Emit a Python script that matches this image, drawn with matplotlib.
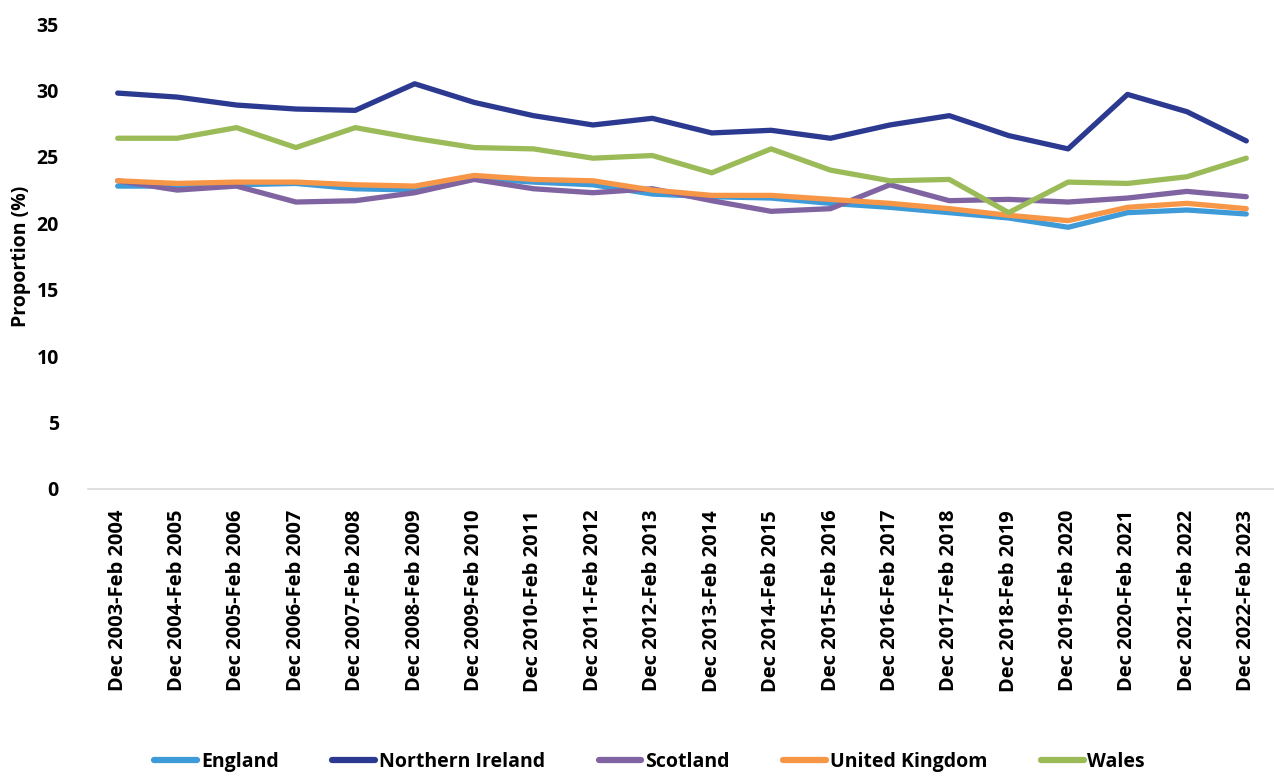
import matplotlib
matplotlib.use("Agg")
import matplotlib.pyplot as plt

categories = [f"Dec {y}-Feb {y+1}" for y in range(2003, 2023)]

england = [22.8, 22.8, 22.9, 23.0, 22.6, 22.5, 23.4, 23.1, 22.9, 22.2,
           22.0, 21.9, 21.5, 21.2, 20.8, 20.4, 19.7, 20.8, 21.0, 20.7]
northern_ireland = [29.8, 29.5, 28.9, 28.6, 28.5, 30.5, 29.1, 28.1, 27.4, 27.9,
                    26.8, 27.0, 26.4, 27.4, 28.1, 26.6, 25.6, 29.7, 28.4, 26.2]
scotland = [23.2, 22.5, 22.8, 21.6, 21.7, 22.3, 23.3, 22.6, 22.3, 22.6,
            21.7, 20.9, 21.1, 22.9, 21.7, 21.8, 21.6, 21.9, 22.4, 22.0]
united_kingdom = [23.2, 23.0, 23.1, 23.1, 22.9, 22.8, 23.6, 23.3, 23.2, 22.5,
                  22.1, 22.1, 21.8, 21.5, 21.1, 20.6, 20.2, 21.2, 21.5, 21.1]
wales = [26.4, 26.4, 27.2, 25.7, 27.2, 26.4, 25.7, 25.6, 24.9, 25.1,
         23.8, 25.6, 24.0, 23.2, 23.3, 20.8, 23.1, 23.0, 23.5, 24.9]

series = [
    ("England", england, "#3f9ad8"),
    ("Northern Ireland", northern_ireland, "#2b3990"),
    ("Scotland", scotland, "#8064a2"),
    ("United Kingdom", united_kingdom, "#f79646"),
    ("Wales", wales, "#9bbb59"),
]

plt.rcParams['font.family'] = ['Open Sans', 'DejaVu Sans']

fig = plt.figure(figsize=(12.74, 7.77), dpi=100)
ax = fig.add_axes([88/1274, 1 - 489/777, (1276-88)/1274, (489-24)/777])

x = list(range(len(categories)))
for name, vals, col in series:
    ax.plot(x, vals, color=col, lw=3.8, label=name, solid_capstyle='round', solid_joinstyle='round')

ax.set_xlim(-0.5, len(categories) - 0.5)
ax.set_ylim(0, 35)
ax.set_yticks(range(0, 36, 5))
ax.set_xticks(x)
ax.set_xticklabels(categories, rotation=90, fontsize=14.5, fontweight='bold')
for lab in ax.get_yticklabels():
    lab.set_fontsize(14)
    lab.set_fontweight('bold')
ax.tick_params(axis='x', length=0, pad=15)
ax.tick_params(axis='y', length=0, pad=21)
ax.set_ylabel("Proportion (%)", fontsize=14, fontweight='bold', labelpad=4)

for s in ['top', 'right', 'left']:
    ax.spines[s].set_visible(False)
ax.spines['bottom'].set_color('#d9d9d9')
ax.spines['bottom'].set_linewidth(1.2)

leg = fig.legend(loc='center', bbox_to_anchor=(0.51, 1 - 762/777), ncol=5, frameon=False,
                 prop={'weight': 'bold', 'size': 14}, handlelength=2.2, handletextpad=0.2,
                 columnspacing=2.75)
for h in leg.get_lines():
    h.set_linewidth(4.5)

fig.savefig("out.png", dpi=100)
